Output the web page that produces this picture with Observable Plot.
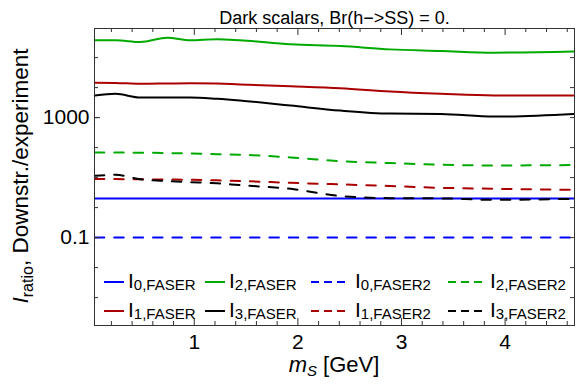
<!DOCTYPE html>
<html>
<head>
<meta charset="utf-8">
<script src="https://cdn.jsdelivr.net/npm/d3@7"></script>
<script src="https://cdn.jsdelivr.net/npm/@observablehq/plot@0.6"></script>
<style>
  html, body { margin: 0; padding: 0; background: white; }
  #chart { width: 576px; height: 387px; }
</style>
</head>
<body>
<div id="chart"></div>
<script>
// ---- data ----
const title = "Dark scalars, Br(h\u2212>SS) = 0.";
const mS = [0.04, 0.24, 0.48, 0.74, 0.96, 1.22, 1.44, 1.93, 2.41, 2.89, 3.38, 3.89, 4.66];
const I0_FASER  = [2, 2, 2, 2, 2, 2, 2, 2, 2, 2, 2, 2, 2];
const I1_FASER  = [14500, 14300, 13400, 13700, 14000, 13700, 12700, 11100, 9550, 7420, 6210, 5450, 5450];
const I2_FASER  = [376000, 376000, 330000, 463000, 376000, 406000, 376000, 276000, 243000, 188000, 167000, 146000, 161000];
const I3_FASER  = [5450, 6210, 4670, 4670, 4670, 4220, 3710, 2520, 1710, 1360, 1330, 1080, 1330];
const I0_FASER2 = [0.1, 0.1, 0.1, 0.1, 0.1, 0.1, 0.1, 0.1, 0.1, 0.1, 0.1, 0.1, 0.1];
const I1_FASER2 = [8.91, 8.91, 8.78, 8.64, 8.44, 8.12, 7.70, 6.70, 5.93, 5.24, 4.56, 4.25, 3.91];
const I2_FASER2 = [69, 69, 67.5, 65.9, 63.5, 60.2, 57.9, 47.0, 35.1, 30.5, 26.8, 25.4, 26.2];
const I3_FASER2 = [11.5, 12.4, 8.78, 7.63, 7.07, 6.45, 5.61, 4.22, 2.43, 2.06, 2.03, 1.81, 1.96];
const xTickLabels = [1, 2, 3, 4];
const yTickLabels = [0.1, 1000];
const xLabel = ["m", "S", " [GeV]"];
const yLabel = ["I", "ratio", ", Downstr./experiment"];

// ---- styling ----
const BLUE = "#0000ff", RED = "#aa0000", GREEN = "#00aa00", BLACK = "#000000";
const series = [
  {sub: "0,FASER",  values: I0_FASER,  color: BLUE,  dashed: false},
  {sub: "1,FASER",  values: I1_FASER,  color: RED,   dashed: false},
  {sub: "2,FASER",  values: I2_FASER,  color: GREEN, dashed: false},
  {sub: "3,FASER",  values: I3_FASER,  color: BLACK, dashed: false},
  {sub: "0,FASER2", values: I0_FASER2, color: BLUE,  dashed: true},
  {sub: "1,FASER2", values: I1_FASER2, color: RED,   dashed: true},
  {sub: "2,FASER2", values: I2_FASER2, color: GREEN, dashed: true},
  {sub: "3,FASER2", values: I3_FASER2, color: BLACK, dashed: true}
];

const W = 576, H = 387, mL = 94, mR = 2, mT = 28, mB = 62;
const plotW = W - mL - mR, plotH = H - mT - mB;

const xMinor = d3.range(2, 47, 2).map(d => d / 10).filter(d => Math.abs(d - Math.round(d)) > 1e-9);
const yDecades = d3.range(-3, 6).map(e => 10 ** e);

const lineMarks = series.map(s => Plot.line(
  mS.map((m, i) => ({mS: m, v: s.values[i]})),
  {x: "mS", y: "v", stroke: s.color, strokeWidth: 2,
   strokeDasharray: s.dashed ? "9.5,9.9" : null, curve: "monotone-x"}
));

const plot = Plot.plot({
  width: W, height: H,
  marginTop: mT, marginBottom: mB, marginLeft: mL, marginRight: mR,
  x: {domain: [0.037, 4.67]},
  y: {type: "log", domain: [10 ** -3.93, 10 ** 5.97]},
  style: {fontFamily: "'Liberation Sans', Arial, sans-serif", background: "white", color: "black"},
  marks: [
    ...lineMarks,
    // inner ticks
    Plot.tickX(xMinor, {insetTop: plotH - 4, stroke: "#333"}),
    Plot.tickX(xMinor, {insetBottom: plotH - 4, stroke: "#333"}),
    Plot.tickX(xTickLabels, {insetTop: plotH - 7, stroke: "#333"}),
    Plot.tickX(xTickLabels, {insetBottom: plotH - 7, stroke: "#333"}),
    Plot.tickY(yDecades, {insetRight: plotW - 4, stroke: "#333"}),
    Plot.tickY(yDecades, {insetLeft: plotW - 4, stroke: "#333"}),
    Plot.tickY(yTickLabels, {insetRight: plotW - 6, stroke: "#333"}),
    Plot.frame({stroke: "#333"}),
    Plot.axisX({ticks: xTickLabels, tickSize: 0, tickPadding: 9, fontSize: 21, label: null, tickFormat: d => String(d)}),
    Plot.axisY({ticks: yTickLabels, tickSize: 0, tickPadding: 5, fontSize: 21, label: null, tickFormat: d3.format("~g")}),
    Plot.text([title], {text: d => d, frameAnchor: "top", lineAnchor: "bottom", dy: -5, fontSize: 18})
  ]
});

document.getElementById("chart").appendChild(plot);
const svg = d3.select(plot);

// x-axis label
const xl = svg.append("text").attr("x", 334).attr("y", 372).attr("text-anchor", "middle")
  .attr("font-size", 22).attr("fill", "black");
xl.append("tspan").attr("font-style", "italic").text(xLabel[0]);
xl.append("tspan").attr("font-style", "italic").attr("font-size", 15).attr("dy", 4).text(xLabel[1]);
xl.append("tspan").attr("dy", -4).text(xLabel[2]);

// y-axis label
const yl = svg.append("text").attr("transform", "translate(28,176) rotate(-90)").attr("text-anchor", "middle")
  .attr("font-size", 22.5).attr("fill", "black");
yl.append("tspan").attr("font-style", "italic").text(yLabel[0]);
yl.append("tspan").attr("font-size", 16).attr("dy", 5).text(yLabel[1]);
yl.append("tspan").attr("dy", -5).text(yLabel[2]);

// legend (inside the frame, 2 rows x 4 columns)
const legendOrder = [[0, 2, 4, 6], [1, 3, 5, 7]];
const colLine = [104, 205, 311, 448];
const colText = [128, 229, 355, 490];
const rowBase = [288, 317];
const lg = svg.append("g").attr("text-anchor", "start");
legendOrder.forEach((row, r) => {
  row.forEach((si, c) => {
    const s = series[si];
    const len = s.dashed ? 35 : 20;
    const ly = rowBase[r] - 6;
    lg.append("line").attr("x1", colLine[c]).attr("x2", colLine[c] + len)
      .attr("y1", ly).attr("y2", ly).attr("stroke", s.color).attr("stroke-width", 2)
      .attr("stroke-dasharray", s.dashed ? "8,5" : null);
    const t = lg.append("text").attr("x", colText[c]).attr("y", rowBase[r])
      .attr("text-anchor", "start").attr("font-size", 21).attr("fill", "black");
    t.append("tspan").text("I");
    t.append("tspan").attr("font-size", 15).attr("dy", 2).text(s.sub);
  });
});
</script>
</body>
</html>
